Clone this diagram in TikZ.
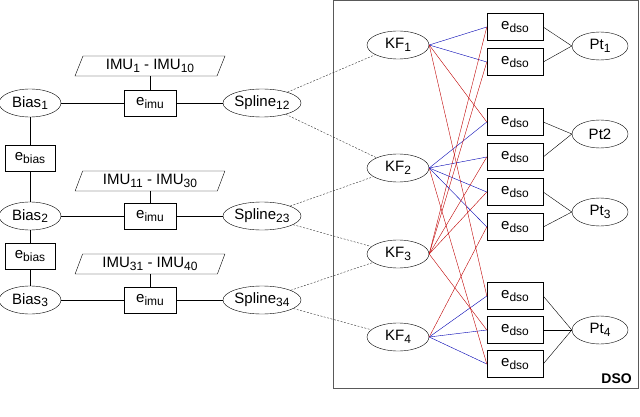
\documentclass[tikz,border=0pt]{standalone}
\usepackage{fontspec}
\setmainfont{Liberation Sans}
\usetikzlibrary{shapes.geometric}
\newcommand{\sbx}[1]{\raisebox{-0.3ex}{\fontsize{12}{12}\selectfont #1}}
\begin{document}
\begin{tikzpicture}[x=1pt,y=-1pt,font=\fontsize{15}{16}\selectfont,
 ell/.style={draw,ellipse,inner sep=0pt,minimum width=62pt,minimum height=28pt},
 ell2/.style={draw,ellipse,inner sep=0pt,minimum width=62pt,minimum height=28pt},
 box/.style={draw,rectangle,minimum width=50pt,minimum height=26pt,inner sep=1pt},
 bx/.style={draw,rectangle,minimum width=52pt,minimum height=26pt,inner sep=1pt},
 par/.style={draw,trapezium,trapezium left angle=70,trapezium right angle=110,minimum width=150pt,minimum height=20pt,inner sep=1pt,trapezium stretches=true},
 dl/.style={dash pattern=on 2pt off 1.5pt,black!80},
 bl/.style={blue!70!black,thin},
 rd/.style={red!75!black,thin}]
\useasboundingbox (0,0) rectangle (640,417);
\draw[gray!70!black,line width=1pt] (333,1) rectangle (638,388);
\node[font=\fontsize{14}{14}\selectfont\bfseries,anchor=south east,inner sep=2pt] (dso) at (634,386) {DSO};
% left
\foreach \i/\y/\a/\b in {1/103/1/12,2/216/2/23,3/300/3/34}{
 \node[ell] (B\i) at (30,\y) {Bias\sbx{\a}};
 \node[bx] (E\i) at (150,\y) {e\sbx{imu}};
 \node[ell,minimum width=78pt] (S\i) at (262,\y) {Spline\sbx{\b}};
}
\node[par] (P1) at (150,66) {IMU\sbx{1} - IMU\sbx{10}};
\node[par] (P2) at (150,181) {IMU\sbx{11} - IMU\sbx{30}};
\node[par] (P3) at (150,264) {IMU\sbx{31} - IMU\sbx{40}};
\node[box] (EB1) at (30,158) {e\sbx{bias}};
\node[box] (EB2) at (30,256) {e\sbx{bias}};
\foreach \i in {1,2,3}{\draw (B\i)--(E\i)--(S\i); \draw (E\i)--(P\i);}
\draw (B1)--(EB1)--(B2)--(EB2)--(B3);
% DSO
\node[ell2] (K1) at (398,45) {KF\sbx{1}};
\node[ell2] (K2) at (398,168) {KF\sbx{2}};
\node[ell2] (K3) at (398,254) {KF\sbx{3}};
\node[ell2] (K4) at (398,337) {KF\sbx{4}};
\foreach \i/\y in {1/27,2/62,3/122,4/157,5/192,6/227,7/296,8/330,9/364}
 \node[bx,minimum width=56pt,minimum height=27pt] (D\i) at (515,\y) {e\sbx{dso}};
\node[ell2,minimum width=56pt] (T1) at (600,46) {Pt\sbx{1}};
\node[ell2,minimum width=56pt] (T2) at (600,134) {Pt2};
\node[ell2,minimum width=56pt] (T3) at (600,212) {Pt\sbx{3}};
\node[ell2,minimum width=56pt] (T4) at (600,330) {Pt\sbx{4}};
\draw[dl] (S1)--(K1); \draw[dl] (S1)--(K2);
\draw[dl] (S2)--(K2); \draw[dl] (S2)--(K3);
\draw[dl] (S3)--(K3); \draw[dl] (S3)--(K4);
\foreach \k/\d in {1/1,1/2,2/3,2/4,2/5,2/6,4/7,4/8,4/9}
 \draw[bl] (K\k.east)--(D\d.west);
\foreach \k/\d in {1/3,1/7,2/9,3/1,3/2,3/4,3/5,3/8,4/6}
 \draw[rd] (K\k.east)--(D\d.west);
\foreach \t/\d in {1/1,1/2,2/3,2/4,3/5,3/6,4/7,4/8,4/9}
 \draw (D\d.east)--(T\t.west);
\end{tikzpicture}
\end{document}
